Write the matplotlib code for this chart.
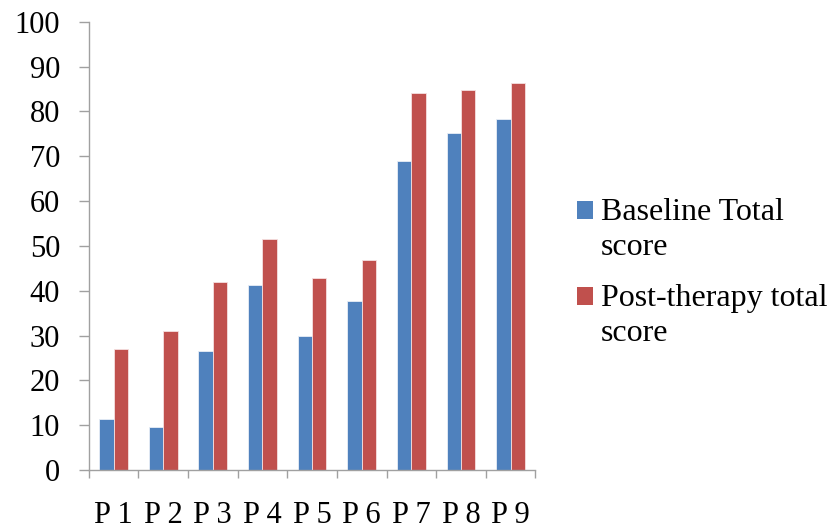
import matplotlib.pyplot as plt
import numpy as np
from matplotlib.legend_handler import HandlerPatch
from matplotlib.patches import Rectangle

plt.rcParams['font.family'] = ['Liberation Serif', 'DejaVu Serif']

patients = ["P 1", "P 2", "P 3", "P 4", "P 5", "P 6", "P 7", "P 8", "P 9"]
baseline = [11.3, 9.7, 26.6, 41.2, 29.8, 37.7, 69.0, 75.3, 78.4]
post_therapy = [26.9, 31.1, 42.0, 51.5, 42.9, 46.9, 84.1, 84.7, 86.4]
labels = ["Baseline Total\nscore", "Post-therapy total\nscore"]

blue = "#4f81bd"
red = "#c0504d"
grey = "#a0a0a0"
fs = 22


class TopSquare(HandlerPatch):
    # put the legend square beside the first line of a two-line label
    def create_artists(self, legend, orig_handle, xdescent, ydescent,
                       width, height, fontsize, trans):
        p = Rectangle((-xdescent, -ydescent + 0.62 * fontsize), width, height,
                      facecolor=orig_handle.get_facecolor(), edgecolor="none",
                      transform=trans)
        return [p]


fig = plt.figure(figsize=(8.3, 5.23), dpi=100)
ax = fig.add_axes([0.107, 0.1013, 0.538, 0.857])

x = np.arange(len(patients))
w = 0.29
b1 = ax.bar(x - w / 2, baseline, w, color=blue, edgecolor="#e8eef7", linewidth=0.6)
b2 = ax.bar(x + w / 2, post_therapy, w, color=red, edgecolor="#f5e0e0", linewidth=0.6)

ax.set_xlim(-0.5, len(patients) - 0.5)
ax.set_ylim(0, 100)
ax.set_yticks(range(0, 101, 10))
ax.set_xticks(x)
ax.set_xticklabels(patients)
ax.set_xticks(np.arange(-0.5, len(patients), 1), minor=True)

ax.tick_params(axis="y", labelsize=fs, length=7.2, width=1, color=grey, pad=13.5)
ax.tick_params(axis="x", which="major", labelsize=fs, length=0, pad=22)
ax.tick_params(axis="x", which="minor", length=6, width=1, color=grey)

for s in ["top", "right"]:
    ax.spines[s].set_visible(False)
for s in ["left", "bottom"]:
    ax.spines[s].set_color(grey)
    ax.spines[s].set_linewidth(1)

leg = fig.legend([b1.patches[0], b2.patches[0]], labels, loc="center left",
                 bbox_to_anchor=(0.695, 0.478), frameon=False, fontsize=23,
                 handlelength=0.5, handleheight=0.5, handletextpad=0.25,
                 labelspacing=0.7, borderpad=0, borderaxespad=0,
                 handler_map={Rectangle: TopSquare()})
for t in leg.get_texts():
    t.set_linespacing(1.27)

fig.savefig("out.png", dpi=100)
